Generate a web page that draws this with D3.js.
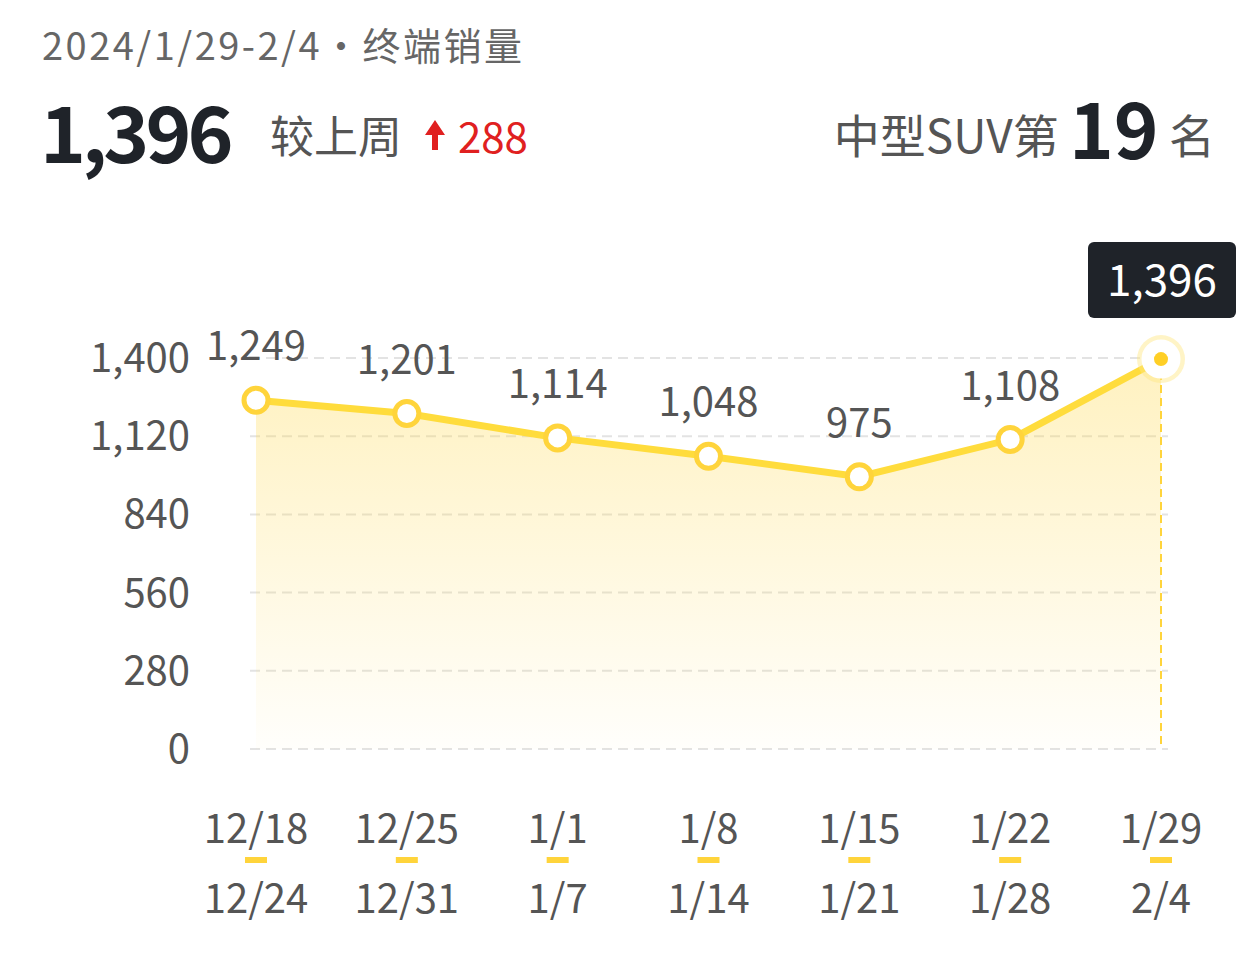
<!DOCTYPE html>
<html><head><meta charset="utf-8">
<script src="https://cdn.jsdelivr.net/npm/d3@7"></script>
<style>body{margin:0;background:#fff;font-family:"Noto Sans CJK SC","Noto Sans",sans-serif}</style>
</head><body>
<svg id="chart" width="1260" height="962"></svg>
<script>
// weekly data
var weekStart = ["12/18", "12/25", "1/1", "1/8", "1/15", "1/22", "1/29"];
var weekEnd = ["12/24", "12/31", "1/7", "1/14", "1/21", "1/28", "2/4"];
var sales = [1249, 1201, 1114, 1048, 975, 1108, 1396];
var yTicks = [0, 280, 560, 840, 1120, 1400];

var svg = d3.select("#chart");
var font = "'Noto Sans CJK SC','Noto Sans',sans-serif";

// header
svg.append("text").attr("x", 42).attr("y", 60).attr("font-size", 38).attr("fill", "#666")
    .attr("font-family", font).attr("textLength", 480).text("2024/1/29-2/4·终端销量");
svg.append("text").attr("x", 40).attr("y", 163).attr("font-size", 78).attr("font-weight", "bold")
    .attr("fill", "#1f2329").attr("font-family", font).attr("letter-spacing", -4).text("1,396");
svg.append("text").attr("x", 270).attr("y", 153).attr("font-size", 44).attr("fill", "#555")
    .attr("font-family", font).text("较上周");
svg.append("path").attr("d", "M435,120 L445,135 L438,135 L438,150 L432,150 L432,135 L425,135 Z").attr("fill", "#e02020");
svg.append("text").attr("x", 458).attr("y", 153).attr("font-size", 42).attr("fill", "#e02020")
    .attr("font-family", font).text("288");
var right = svg.append("text").attr("x", 1215).attr("y", 153).attr("text-anchor", "end")
    .attr("font-family", font).attr("fill", "#555");
right.append("tspan").attr("font-size", 46).text("中型SUV第 ");
right.append("tspan").attr("font-size", 76).attr("font-weight", "bold").attr("fill", "#1f2329").attr("dy", 6).text("19");
right.append("tspan").attr("font-size", 46).attr("dy", -6).text(" 名");

var x = d3.scalePoint().domain(weekStart).range([256, 1161]);
var y = d3.scaleLinear().domain([0, 1400]).range([749, 358]);

// grid lines
svg.selectAll(".grid").data(yTicks).enter().append("line")
    .attr("x1", 250).attr("x2", 1168).attr("y1", d => y(d)).attr("y2", d => y(d))
    .attr("stroke", "#e3e3e3").attr("stroke-width", 2).attr("stroke-dasharray", "10,6");
svg.selectAll(".ytick").data(yTicks).enter().append("text")
    .attr("x", 190).attr("y", d => y(d) + 14).attr("text-anchor", "end")
    .attr("font-size", 40).attr("fill", "#555").attr("font-family", font)
    .text(d => d3.format(",")(d));

// gradient area
var grad = svg.append("defs").append("linearGradient").attr("id", "g")
    .attr("x1", 0).attr("x2", 0).attr("y1", 0).attr("y2", 1);
grad.append("stop").attr("offset", "0%").attr("stop-color", "#ffd84a").attr("stop-opacity", 0.35);
grad.append("stop").attr("offset", "100%").attr("stop-color", "#ffd84a").attr("stop-opacity", 0.02);

var pts = sales.map((v, i) => [x(weekStart[i]), y(v)]);
svg.append("path").datum(pts)
    .attr("d", d3.area().x(d => d[0]).y0(y(0)).y1(d => d[1]))
    .attr("fill", "url(#g)");
svg.append("line").attr("x1", pts[6][0]).attr("x2", pts[6][0]).attr("y1", pts[6][1]).attr("y2", y(0))
    .attr("stroke", "#ffd43b").attr("stroke-width", 2).attr("stroke-dasharray", "8,5");
svg.append("path").datum(pts)
    .attr("d", d3.line().x(d => d[0]).y(d => d[1]))
    .attr("fill", "none").attr("stroke", "#ffdc3c").attr("stroke-width", 7);

// points
svg.append("circle").attr("cx", pts[6][0]).attr("cy", pts[6][1]).attr("r", 24)
    .attr("fill", "#ffe680").attr("opacity", 0.45);
svg.selectAll(".pt").data(pts).enter().append("circle")
    .attr("cx", d => d[0]).attr("cy", d => d[1]).attr("r", (d, i) => i == 6 ? 17 : 12)
    .attr("fill", "#fff").attr("stroke", (d, i) => i == 6 ? "#fff" : "#ffd43b").attr("stroke-width", 5);
svg.append("circle").attr("cx", pts[6][0]).attr("cy", pts[6][1]).attr("r", 7).attr("fill", "#ffcf26");

// value labels
svg.selectAll(".val").data(sales.slice(0, 6)).enter().append("text")
    .attr("x", (d, i) => pts[i][0]).attr("y", (d, i) => pts[i][1] - 40)
    .attr("text-anchor", "middle").attr("font-size", 40).attr("fill", "#555").attr("font-family", font)
    .text(d => d3.format(",")(d));

// tooltip
svg.append("rect").attr("x", 1088).attr("y", 242).attr("width", 148).attr("height", 76).attr("rx", 6).attr("fill", "#1f2329");
svg.append("text").attr("x", 1162).attr("y", 296).attr("text-anchor", "middle").attr("font-size", 44)
    .attr("fill", "#fff").attr("font-family", font).text(d3.format(",")(sales[6]));

// x labels
weekStart.forEach(function(w, i) {
    var cx = x(w);
    svg.append("text").attr("x", cx).attr("y", 843).attr("text-anchor", "middle").attr("font-size", 40)
        .attr("fill", "#555").attr("font-family", font).text(w);
    svg.append("rect").attr("x", cx - 11).attr("y", 857).attr("width", 22).attr("height", 6).attr("fill", "#ffd43b");
    svg.append("text").attr("x", cx).attr("y", 913).attr("text-anchor", "middle").attr("font-size", 40)
        .attr("fill", "#555").attr("font-family", font).text(weekEnd[i]);
});
</script>
</body></html>
